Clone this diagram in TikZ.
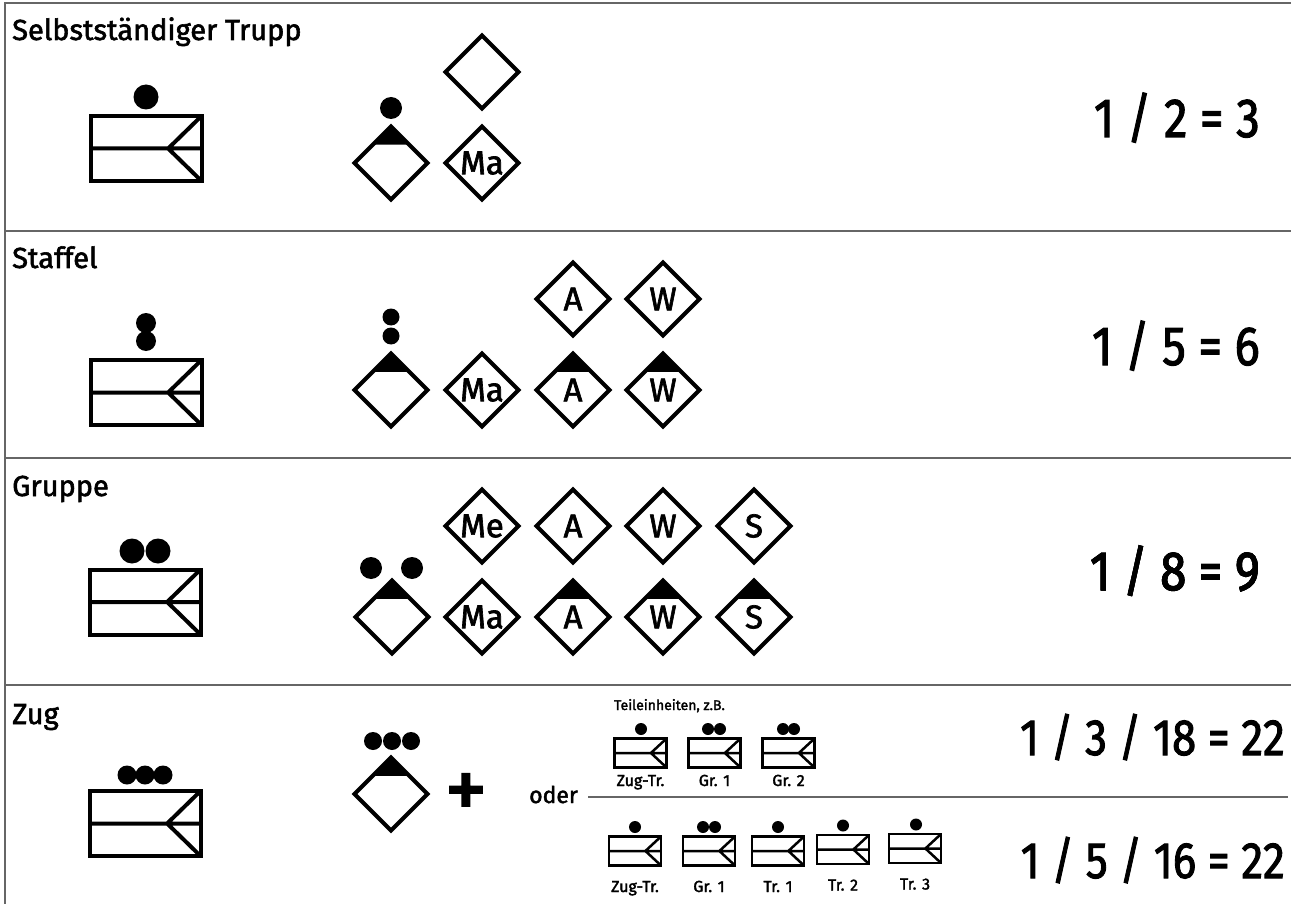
\documentclass[tikz,border=0pt]{standalone}
\usepackage{fontspec}
\setmainfont{Fira Sans}[FakeBold=2]
\usetikzlibrary{shapes.geometric,calc}

\tikzset{
  fzg/.style={draw, line width=4pt, inner sep=0pt, outer sep=0pt, minimum width=111pt, minimum height=65pt},
  kfzg/.style={draw, line width=2.5pt, inner sep=0pt, outer sep=0pt, minimum width=52pt, minimum height=29pt},
  raute/.style={draw, shape=diamond, line width=4pt, inner sep=0pt, outer sep=0pt, minimum width=73pt, minimum height=73pt, font=\fontsize{33}{33}\selectfont},
  titel/.style={anchor=base west, inner sep=0pt, font=\fontsize{29}{29}\selectfont},
  staerke/.style={anchor=base east, inner sep=0pt, font=\fontsize{55}{55}\selectfont},
  klein/.style={anchor=base, inner sep=0pt, font=\fontsize{16}{16}\selectfont},
  linie/.style={draw=black!60, line width=1.5pt},
}

\newcommand{\fzgteil}[2][4pt]{%
  \draw[line width=#1] (#2.west) -- (#2.east)
    (#2.north east) -- ($(#2.west)!0.7!(#2.east)$) -- (#2.south east);}
\newcommand{\tfuehrer}[1]{%
  \fill (#1.north) -- ($(#1.north)!0.5!(#1.west)$) -- ($(#1.north)!0.5!(#1.east)$) -- cycle;}
\newcommand{\schmal}[1]{\scalebox{0.86}[1]{#1}}

\begin{document}
\begin{tikzpicture}[x=1pt,y=-1pt]
\useasboundingbox (0,0) rectangle (1291,904);
% Tabelle
\draw[linie] (5,904) -- (5,3) -- (1291,3);
\foreach \y in {231,458,685} \draw[linie] (5,\y) -- (1291,\y);

% Selbststaendiger Trupp
\node[titel] (t1) at (12,40) {Selbstständiger Trupp};
\node[fzg] (f1) at (146,148.5) {};
\fzgteil{f1}
\fill (146,97) circle (12.5pt);
\node[raute] (r1l) at (391,163) {};
\tfuehrer{r1l}
\fill (391,108) circle (11pt);
\node[raute] (r1ma) at (482,163) {Ma};
\node[raute] (r1o) at (482,72) {};
\node[staerke] (s1) at (1260,137) {\schmal{1 / 2 = 3}};

% Staffel
\node[titel] (t2) at (12,268) {Staffel};
\node[fzg] (f2) at (146,392.5) {};
\fzgteil{f2}
\fill (146,323) circle (10pt) (146,341) circle (10pt);
\node[raute] (r2l) at (391,390) {};
\tfuehrer{r2l}
\fill (391,317) circle (8.5pt) (391,336) circle (8.5pt);
\node[raute] (r2ma) at (482,390) {Ma};
\node[raute] (r2a) at (573,390) {A};
\node[raute] (r2w) at (663,390) {W};
\tfuehrer{r2a} \tfuehrer{r2w}
\node[raute] (r2ao) at (573,299) {A};
\node[raute] (r2wo) at (663,299) {W};
\node[staerke] (s2) at (1260,365) {\schmal{1 / 5 = 6}};

% Gruppe
\node[titel] (t3) at (12,496) {Gruppe};
\node[fzg] (f3) at (145,602) {};
\fzgteil{f3}
\fill (132,551) circle (12.5pt) (158,551) circle (12.5pt);
\node[raute] (r3l) at (392,617) {};
\tfuehrer{r3l}
\fill (371,568) circle (11pt) (412,568) circle (11pt);
\foreach \n/\x/\o/\u in {1/482/Me/Ma, 2/573/A/A, 3/663/W/W, 4/754/S/S} {
  \node[raute] (r3o\n) at (\x,526) {\o};
  \node[raute] (r3u\n) at (\x,617) {\u};
}
\foreach \n in {2,3,4} \tfuehrer{r3u\n}
\node[staerke] (s3) at (1260,590) {\schmal{1 / 8 = 9}};

% Zug
\node[titel] (t4) at (12,724) {Zug};
\node[fzg] (f4) at (145,823.5) {};
\fzgteil{f4}
\foreach \x in {127,145,163} \fill (\x,775) circle (9.5pt);
\node[raute] (r4l) at (391,794) {};
\tfuehrer{r4l}
\foreach \x in {373,392,411} \fill (\x,741) circle (9pt);
\node[inner sep=0pt, font=\fontsize{86}{86}\selectfont] (plus) at (466,796) {+};
\node[anchor=base west, inner sep=0pt, font=\fontsize{23}{23}\selectfont] (oder) at (529,803) {oder};
\coordinate (tanf) at (588,797);
\coordinate (tende) at (1288,797);
\draw[linie] (tanf) -- (tende);

% Teileinheiten
\node[klein, font=\fontsize{14}{14}\selectfont] (tz) at (669.5,710) {Teileinheiten, z.B.};
\foreach \n/\x/\t in {1/640.5/Zug-Tr., 2/714.5/Gr. 1, 3/788.5/Gr. 2} {
  \node[kfzg] (ko\n) at (\x,753) {};
  \fzgteil[2.5pt]{ko\n}
  \node[klein] (lo\n) at (\x,786) {\t};
}
\foreach \x in {641,708,720,783,794} \fill (\x,729) circle (6pt);
\foreach \n/\x/\y/\t in {1/635/851/Zug-Tr., 2/709/851/Gr. 1, 3/778/851/Tr. 1, 4/843/849.5/Tr. 2, 5/915/848.5/Tr. 3} {
  \node[kfzg] (ku\n) at (\x,\y) {};
  \fzgteil[2.5pt]{ku\n}
  \node[klein] (lu\n) at (\x,{\y+41}) {\t};
}
\foreach \x/\y in {635/827, 703/827, 715/827, 778/827, 843/825.5, 916/824.5} \fill (\x,\y) circle (6pt);

\node[staerke, font=\fontsize{51}{51}\selectfont] (s4o) at (1285,755) {\schmal{1 / 3 / 18 = 22}};
\node[staerke, font=\fontsize{51}{51}\selectfont] (s4u) at (1285,878) {\schmal{1 / 5 / 16 = 22}};
\end{tikzpicture}
\end{document}
